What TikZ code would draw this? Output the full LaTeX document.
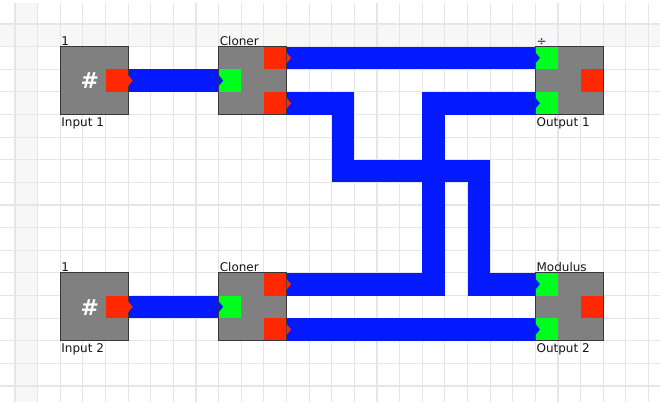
\documentclass[tikz,border=0pt]{standalone}
\usepackage{fontspec}
\setmainfont{DejaVu Sans}
\usetikzlibrary{calc}
\definecolor{wireblue}{RGB}{5,25,255}
\definecolor{portred}{RGB}{255,40,0}
\definecolor{portgreen}{RGB}{0,255,30}
\definecolor{boxgray}{RGB}{128,128,128}
\definecolor{boxedge}{RGB}{55,55,55}
\definecolor{gridline}{RGB}{230,230,230}
\definecolor{bandgray}{RGB}{247,247,247}
\definecolor{textdark}{RGB}{20,20,20}
\newcommand\outtip[1]{\fill[portred] ($(#1.east)+(0,0.243)$) -- ($(#1.east)+(0.2,0)$) -- ($(#1.east)+(0,-0.243)$) -- cycle;}
\newcommand\intip[1]{\fill[wireblue] ($(#1.west)+(0,0.243)$) -- ($(#1.west)+(0.2,0)$) -- ($(#1.west)+(0,-0.243)$) -- cycle;}
\begin{document}
\begin{tikzpicture}[x=22.625pt,y=-22.625pt,
  blockbox/.style={fill=boxgray, minimum width=67.875pt, minimum height=67.875pt, inner sep=0pt, outer sep=0pt},
  outport/.style={fill=portred, minimum size=22.625pt, inner sep=0pt, outer sep=0pt},
  inport/.style={fill=portgreen, minimum size=22.625pt, inner sep=0pt, outer sep=0pt},
  wire/.style={draw=wireblue, line width=22.625pt, line join=miter, line cap=butt},
  lbl/.style={font=\fontsize{12}{14}\selectfont, text=textdark, inner sep=0pt, anchor=base west},
  hashmark/.style={font=\fontsize{22}{24}\selectfont\bfseries, text=white, inner sep=0pt},
  boxline/.style={draw=boxedge, line width=1.1pt}
]
\useasboundingbox (-0.66298,-1.06077) rectangle (28.50829,16.70718);
% background bands
\fill[bandgray] (-0.66298,0) rectangle (28.50829,1);
\fill[bandgray] (0,-0.928) rectangle (1,16.70718);
% grid
\foreach \i in {0,...,28} \draw[gridline, line width=1.1pt] (\i,-0.928) -- (\i,16.70718);
\foreach \j in {0,...,16} \draw[gridline, line width=1.1pt] (-0.66298,\j) -- (28.50829,\j);

% boxes
\node[blockbox] (in1) at (3.5,2.5) {};
\node[blockbox] (cl1) at (10.5,2.5) {};
\node[blockbox] (o1) at (24.5,2.5) {};
\node[blockbox] (in2) at (3.5,12.5) {};
\node[blockbox] (cl2) at (10.5,12.5) {};
\node[blockbox] (o2) at (24.5,12.5) {};

% ports
\node[outport] (in1p) at (4.5,2.5) {};
\node[inport]  (cl1i) at (9.5,2.5) {};
\node[outport] (cl1a) at (11.5,1.5) {};
\node[outport] (cl1b) at (11.5,3.5) {};
\node[inport]  (o1a) at (23.5,1.5) {};
\node[inport]  (o1b) at (23.5,3.5) {};
\node[outport] (o1p) at (25.5,2.5) {};
\node[outport] (in2p) at (4.5,12.5) {};
\node[inport]  (cl2i) at (9.5,12.5) {};
\node[outport] (cl2a) at (11.5,11.5) {};
\node[outport] (cl2b) at (11.5,13.5) {};
\node[inport]  (o2a) at (23.5,11.5) {};
\node[inport]  (o2b) at (23.5,13.5) {};
\node[outport] (o2p) at (25.5,12.5) {};

% route corners
\coordinate (r1) at (14.5,6.5);
\coordinate (r2) at (20.5,6.5);
\coordinate (r3) at (18.5,3.5);

% wires
\draw[wire] (in1p.east) -- (cl1i.west);
\draw[wire] (cl1a.east) -- (o1a.west);
\draw[wire] (cl1b.east) -| (r1) -- (r2) |- (o2a.west);
\draw[wire] (cl2a.east) -| (r3) -- (o1b.west);
\draw[wire] (cl2b.east) -- (o2b.west);
\draw[wire] (in2p.east) -- (cl2i.west);

% box outlines
\foreach \b in {in1,cl1,o1,in2,cl2,o2} \draw[boxline] (\b.north west) rectangle (\b.south east);

% arrow tips
\outtip{in1p} \outtip{cl1a} \outtip{cl1b}
\outtip{in2p} \outtip{cl2a} \outtip{cl2b}
\intip{cl1i} \intip{o1a} \intip{o1b}
\intip{cl2i} \intip{o2a} \intip{o2b}

% hash marks
\node[hashmark] (h1) at (3.31,2.52) {\#};
\node[hashmark] (h2) at (3.31,12.52) {\#};

% labels
\node[lbl] (t1) at ([xshift=1pt,yshift=1.6pt]in1.north west) {1};
\node[lbl] (t2) at ([xshift=1pt,yshift=1.6pt]cl1.north west) {Cloner};
\node[lbl] (t3) at ([xshift=1pt,yshift=1.6pt]o1.north west) {÷};
\node[lbl] (t4) at ([xshift=1pt,yshift=1.6pt]in2.north west) {1};
\node[lbl] (t5) at ([xshift=1pt,yshift=1.6pt]cl2.north west) {Cloner};
\node[lbl] (t6) at ([xshift=1pt,yshift=1.6pt]o2.north west) {Modulus};
\node[lbl] (b1) at ([xshift=1pt,yshift=-12.2pt]in1.south west) {Input 1};
\node[lbl] (b3) at ([xshift=1pt,yshift=-12.2pt]o1.south west) {Output 1};
\node[lbl] (b4) at ([xshift=1pt,yshift=-12.2pt]in2.south west) {Input 2};
\node[lbl] (b6) at ([xshift=1pt,yshift=-12.2pt]o2.south west) {Output 2};
\end{tikzpicture}
\end{document}
